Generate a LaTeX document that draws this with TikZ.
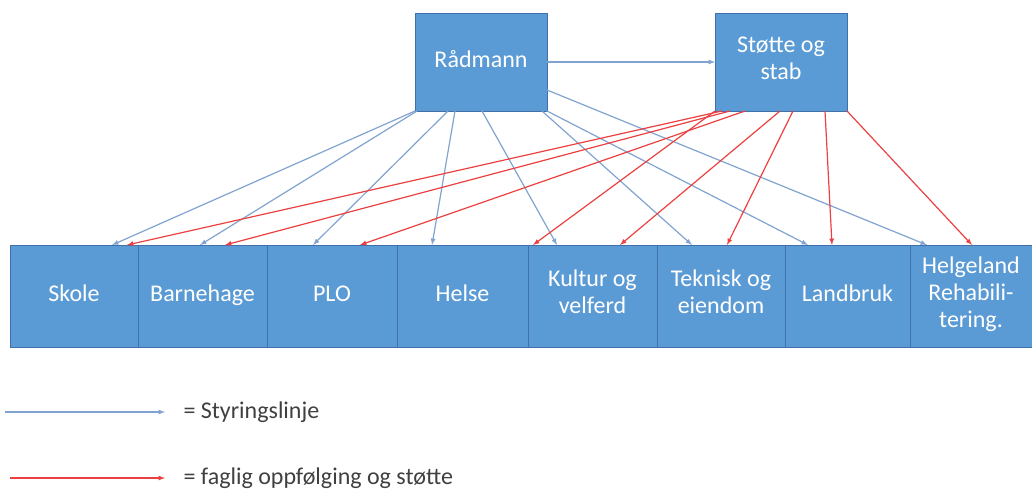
\documentclass[tikz,border=0pt]{standalone}
\usepackage{fontspec}
\setmainfont{Carlito}
\usetikzlibrary{arrows}
\usetikzlibrary{positioning}
\definecolor{boxblue}{RGB}{91,155,213}
\definecolor{boxedge}{RGB}{65,113,170}
\definecolor{styrblue}{RGB}{128,163,208}
\definecolor{fagred}{RGB}{236,64,64}
\definecolor{legendgray}{RGB}{64,64,64}

\begin{document}
\begin{tikzpicture}[x=1pt,y=1pt,
        every node/.style={font=\fontsize{24}{27}\selectfont},
        unit/.style={rectangle,fill=boxblue,draw=boxedge,line width=0.6pt,text=white,
                     align=center,minimum height=102pt,inner sep=0pt,outer sep=0pt,
                     execute at begin node=\strut},
        leader/.style={unit,minimum width=132pt,minimum height=98pt},
        styring/.style={draw=styrblue,line width=1.2pt,-latex},
        faglig/.style={draw=fagred,line width=1.2pt,-latex},
        legend/.style={text=legendgray,anchor=west}
      ]
      \useasboundingbox (0,0) rectangle (1032,-498);
      % ledelse
      \node (radmann) [leader] at (481,-62) {Rådmann};
      \node (stotte) [leader] at (781,-62) {Støtte og\\stab};
      % enheter
      \node (skole) [unit,minimum width=128pt,anchor=north west] at (10,-245) {Skole};
      \node (barnehage) [unit,minimum width=129pt,right=0pt of skole] {Barnehage};
      \node (plo) [unit,minimum width=130pt,right=0pt of barnehage] {PLO};
      \node (helse) [unit,minimum width=131pt,right=0pt of plo] {Helse};
      \node (kultur) [unit,minimum width=129pt,right=0pt of helse] {Kultur og\\velferd};
      \node (teknisk) [unit,minimum width=128pt,right=0pt of kultur] {Teknisk og\\eiendom};
      \node (landbruk) [unit,minimum width=125pt,right=0pt of teknisk] {Landbruk};
      \node (helgeland) [unit,minimum width=122pt,right=0pt of landbruk] {Helgeland\\Rehabili-\\tering.};

      % styringslinjer
      \draw[styring] (radmann) -- (stotte);
      \draw[styring] (radmann.south west) -- ([xshift=102pt]skole.north west);
      \draw[styring] ([xshift=2pt]radmann.south west) -- ([xshift=62pt]barnehage.north west);
      \draw[styring] ([xshift=33pt]radmann.south west) -- ([xshift=46pt]plo.north west);
      \draw[styring] ([xshift=40pt]radmann.south west) -- ([xshift=35pt]helse.north west);
      \draw[styring] ([xshift=67pt]radmann.south west) -- ([xshift=29pt]kultur.north west);
      \draw[styring] ([xshift=-5pt]radmann.south east) -- ([xshift=35pt]teknisk.north west);
      \draw[styring] (radmann.south east) -- ([xshift=23pt]landbruk.north west);
      \draw[styring] ([yshift=-28pt]radmann.east) -- ([xshift=17pt]helgeland.north west);

      % faglig oppfolging
      \draw[faglig] ([xshift=7pt]stotte.south west) -- ([xshift=117pt]skole.north west);
      \draw[faglig] ([xshift=15pt]stotte.south west) -- ([xshift=87pt]barnehage.north west);
      \draw[faglig] ([xshift=30pt]stotte.south west) -- ([xshift=93pt]plo.north west);
      \draw[faglig] (stotte.south west) -- ([xshift=5pt]helse.north east);
      \draw[faglig] ([xshift=65pt]stotte.south west) -- ([xshift=92pt]kultur.north west);
      \draw[faglig] ([xshift=78pt]stotte.south west) -- ([xshift=70pt]teknisk.north west);
      \draw[faglig] ([xshift=110pt]stotte.south west) -- ([xshift=47pt]landbruk.north west);
      \draw[faglig] (stotte.south east) -- ([xshift=62pt]helgeland.north west);

      % tegnforklaring
      \coordinate (styrfra) at (5,-412);
      \node (styrtekst) [legend] at (180,-412) {= Styringslinje};
      \draw[styring] (styrfra) -- ([xshift=-15pt]styrtekst.west);
      \coordinate (fagfra) at (10,-478);
      \node (fagtekst) [legend] at (180,-478) {= faglig oppfølging og støtte};
      \draw[faglig] (fagfra) -- ([xshift=-15pt]fagtekst.west);
    \end{tikzpicture}
\end{document}
